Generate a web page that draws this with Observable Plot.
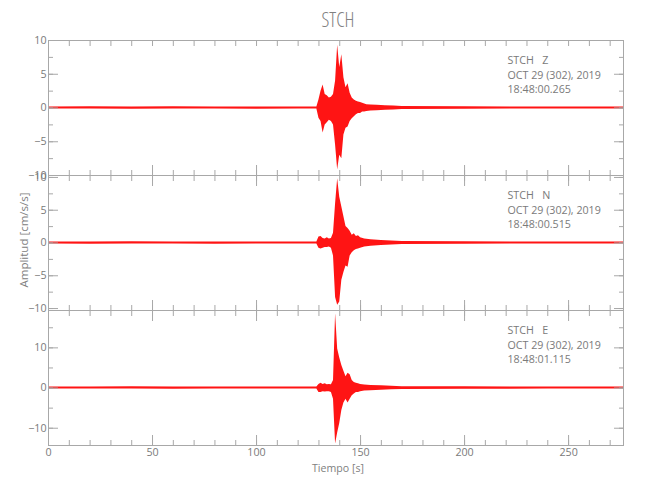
<!DOCTYPE html>
<html><head><meta charset="utf-8">
<script src="https://cdn.jsdelivr.net/npm/d3@7"></script>
<script src="https://cdn.jsdelivr.net/npm/@observablehq/plot@0.6"></script>
<style>
body{margin:0;background:#fff;}
#chart{position:relative;width:650px;height:500px;color:#808080;}
#chart svg{position:absolute;left:0;}
.lbl{position:absolute;white-space:pre;color:#808080;line-height:1;}
</style></head><body><div id="chart"></div>
<script>
const stationName = "STCH";
const timeLabel = "Tiempo [s]";
const ampLabel = "Amplitud [cm/s/s]";
const xEnd = 276.4;
const xTicks = [0, 50, 100, 150, 200, 250];
const xTickLabels = ["0", "50", "100", "150", "200", "250"];
const xMinorTicks = [0,10,20,30,40,50,60,70,80,90,100,110,120,130,140,150,160,170,180,190,200,210,220,230,240,250,260,270];

// Z component
const zInfo = ["STCH\u00a0\u00a0\u00a0Z", "OCT 29 (302), 2019", "18:48:00.265"];
const zTime = [0,20,40,60,80,100,120,129,130,131,132,133,134,135,136,137,138,139,140,141,142,143,144,145,146,147,148,149,150,151,152,153,155,158,162,166,170,200,240,276.4];
const zHigh = [0.15,0.2,0.15,0.2,0.15,0.15,0.15,0.15,1.2,2.5,3.4,2.0,1.8,1.5,1.6,2.0,4.0,9.3,6.0,7.9,4.5,3.0,3.6,2.2,1.5,1.2,1.0,0.9,0.8,0.7,0.6,0.5,0.45,0.4,0.35,0.3,0.22,0.18,0.15,0.15];
const zLow = [-0.15,-0.15,-0.2,-0.15,-0.15,-0.2,-0.15,-0.15,-1.5,-2.0,-3.7,-2.5,-2.2,-1.8,-2.0,-2.5,-5.5,-9.2,-7.0,-7.5,-4.0,-3.0,-2.8,-2.0,-1.6,-1.3,-1.0,-0.8,-0.8,-0.6,-0.6,-0.5,-0.45,-0.4,-0.35,-0.3,-0.22,-0.18,-0.15,-0.15];
const zDomain = [-10, 10];
const zTicks = [-10, -5, 0, 5, 10];
const zTickLabels = ["\u221210", "\u22125", "0", "5", "10"];
const zMinor = [-10,-7.5,-5,-2.5,0,2.5,5,7.5,10];

// N component
const nInfo = ["STCH\u00a0\u00a0\u00a0N", "OCT 29 (302), 2019", "18:48:00.515"];
const nTime = [0,20,40,60,80,100,120,129,130,131,132,133,134,135,136,137,138,139,140,141,142,143,144,145,146,147,148,149,150,152,155,160,165,170,200,240,276.4];
const nHigh = [0.15,0.15,0.2,0.15,0.15,0.15,0.15,0.15,0.9,1.0,0.7,0.6,0.8,0.6,0.7,1.5,6.0,9.8,7.0,5.5,4.0,2.5,2.2,1.8,1.2,1.4,1.0,1.1,0.8,0.6,0.5,0.4,0.3,0.22,0.18,0.15,0.15];
const nLow = [-0.15,-0.2,-0.15,-0.15,-0.2,-0.15,-0.15,-0.15,-0.8,-0.9,-0.8,-0.7,-0.7,-0.6,-0.8,-2.0,-8.3,-9.5,-9.0,-5.7,-4.5,-3.5,-3.7,-2.0,-1.5,-1.2,-1.0,-0.9,-0.8,-0.6,-0.5,-0.4,-0.3,-0.22,-0.18,-0.15,-0.15];
const nDomain = [-10.3, 10.3];
const nTicks = [-10, -5, 0, 5, 10];
const nTickLabels = ["\u221210", "\u22125", "0", "5", "10"];
const nMinor = [-10,-7.5,-5,-2.5,0,2.5,5,7.5,10];

// E component
const eInfo = ["STCH\u00a0\u00a0\u00a0E", "OCT 29 (302), 2019", "18:48:01.115"];
const eTime = [0,20,40,60,80,100,120,129,130,131,132,133,134,135,136,137,138,139,140,141,142,143,144,145,146,147,148,149,150,152,155,160,165,170,200,240,276.4];
const eHigh = [0.25,0.25,0.3,0.25,0.25,0.25,0.25,0.25,0.9,1.2,0.9,1.1,0.8,0.9,0.8,1.9,18.5,9.7,7.5,5.6,4.2,2.8,3.7,3.3,1.9,1.4,1.2,1.1,0.9,0.75,0.65,0.55,0.45,0.35,0.3,0.25,0.25];
const eLow = [-0.25,-0.25,-0.25,-0.3,-0.25,-0.25,-0.25,-0.25,-1.1,-1.1,-0.9,-1.0,-0.9,-0.9,-1.1,-2.8,-13.9,-11.2,-8.8,-5.6,-3.7,-2.8,-3.7,-2.8,-1.9,-1.5,-1.1,-1.1,-0.9,-0.75,-0.65,-0.55,-0.45,-0.35,-0.3,-0.25,-0.25];
const eDomain = [-14.3, 19.3];
const eTicks = [-10, 0, 10];
const eTickLabels = ["\u221210", "0", "10"];
const eMinor = [-10,-5,0,5,10,15];

const axisGray = "#a8a8a8";
const textGray = "#7a7a7a";
const traceRed = "#ff0000";
const family = '"Open Sans", "DejaVu Sans", sans-serif';

function measure(text, stretch, weight) {
  const s = document.createElement("span");
  s.style.cssText = `position:absolute;visibility:hidden;white-space:pre;font-family:${family};font-stretch:${stretch};font-weight:${weight};font-size:100px`;
  s.textContent = text;
  document.body.appendChild(s);
  const w = s.getBoundingClientRect().width;
  s.remove();
  return w;
}
const lineStep = 14.7;
const baseSize = Math.min(10.7, 100 * 100 / measure("OCT 29 (302), 2019", "100%", 400));
const ampSize = Math.min(11.5, 100 * 95 / measure(ampLabel, "100%", 400));
const timeSize = Math.min(11.5, 100 * 52 / measure(timeLabel, "100%", 400));
const titleSize = 100 * 33 / measure(stationName, "75%", 300);

function panel(cfg) {
  const idx = d3.range(cfg.time.length);
  const marks = [
    Plot.areaY(idx, {x: i => cfg.time[i], y1: i => cfg.low[i], y2: i => cfg.high[i], fill: traceRed, fillOpacity: 0.92}),
    Plot.frame({stroke: axisGray}),
    Plot.axisX({anchor: "bottom", ticks: xMinorTicks, tickSize: 5, dy: -5, tickFormat: () => "", label: null, stroke: axisGray}),
    Plot.axisX({anchor: "bottom", ticks: xTicks, tickSize: 10, dy: -10, tickFormat: () => "", label: null, stroke: axisGray}),
    Plot.axisX({anchor: "top", ticks: xMinorTicks, tickSize: 5, dy: 5, tickFormat: () => "", label: null, stroke: axisGray}),
    Plot.axisY({anchor: "left", ticks: cfg.minor, tickSize: 5, dx: 5, tickFormat: () => "", label: null, stroke: axisGray}),
    Plot.axisY({anchor: "left", ticks: cfg.ticks, tickSize: 10, dx: 10, tickFormat: () => "", label: null, stroke: axisGray}),
    Plot.axisY({anchor: "right", ticks: cfg.minor, tickSize: 5, dx: -5, tickFormat: () => "", label: null, stroke: axisGray}),
    Plot.axisY({anchor: "right", ticks: cfg.ticks, tickSize: 10, dx: -10, tickFormat: () => "", label: null, stroke: axisGray}),
    Plot.text(cfg.ticks, {y: d => d, frameAnchor: "left", dx: -2, textAnchor: "end", text: (d, i) => cfg.tickLabels[i], fill: textGray, fontSize: baseSize})
  ];
  cfg.info.forEach((line, i) => {
    marks.push(Plot.text([line], {frameAnchor: "top-left", dx: 459, dy: 20 + i * lineStep, text: d => d, textAnchor: "start", lineAnchor: "middle", fill: textGray, fontSize: baseSize}));
  });
  if (!cfg.topMinorOnly) {
    marks.push(Plot.axisX({anchor: "top", ticks: xTicks, tickSize: 10, dy: 10, tickFormat: () => "", label: null, stroke: axisGray}));
  }
  if (cfg.showX) {
    marks.push(Plot.text(xTicks, {x: d => d, frameAnchor: "bottom", dy: 7.5, lineAnchor: "middle", text: (d, i) => xTickLabels[i], fill: textGray, fontSize: baseSize}));
  }
  const svg = Plot.plot({
    width: 650, height: cfg.height,
    marginLeft: 48, marginRight: 27, marginTop: cfg.mTop, marginBottom: cfg.mBottom,
    x: {domain: [0, xEnd], axis: null},
    y: {domain: cfg.domain, axis: null},
    style: {background: "transparent", overflow: "visible", fontFamily: family, fontWeight: "400", color: textGray},
    marks
  });
  svg.style.top = cfg.top + "px";
  return svg;
}

const chart = document.getElementById("chart");
chart.appendChild(panel({time: zTime, high: zHigh, low: zLow, domain: zDomain, ticks: zTicks, tickLabels: zTickLabels, minor: zMinor, info: zInfo, top: 0, height: 175, mTop: 40, mBottom: 0, topMinorOnly: true}));
chart.appendChild(panel({time: nTime, high: nHigh, low: nLow, domain: nDomain, ticks: nTicks, tickLabels: nTickLabels, minor: nMinor, info: nInfo, top: 175, height: 135, mTop: 0, mBottom: 0}));
chart.appendChild(panel({time: eTime, high: eHigh, low: eLow, domain: eDomain, ticks: eTicks, tickLabels: eTickLabels, minor: eMinor, info: eInfo, top: 310, height: 190, mTop: 0, mBottom: 55, showX: true}));

function addLabel(text, size, stretch, weight, css) {
  const d = document.createElement("div");
  d.className = "lbl";
  d.textContent = text;
  d.style.fontFamily = family;
  d.style.fontStretch = stretch;
  d.style.fontWeight = weight;
  d.style.fontSize = size + "px";
  Object.assign(d.style, css);
  chart.appendChild(d);
}
addLabel(stationName, titleSize, "75%", "300", {left: "338px", top: "20px", transform: "translate(-50%,-50%)"});
addLabel(timeLabel, timeSize, "100%", "400", {left: "338px", top: "468px", transform: "translate(-50%,-50%)"});
addLabel(ampLabel, ampSize, "100%", "400", {left: "24px", top: "240px", transform: "translate(-50%,-50%) rotate(-90deg)"});
</script></body></html>
